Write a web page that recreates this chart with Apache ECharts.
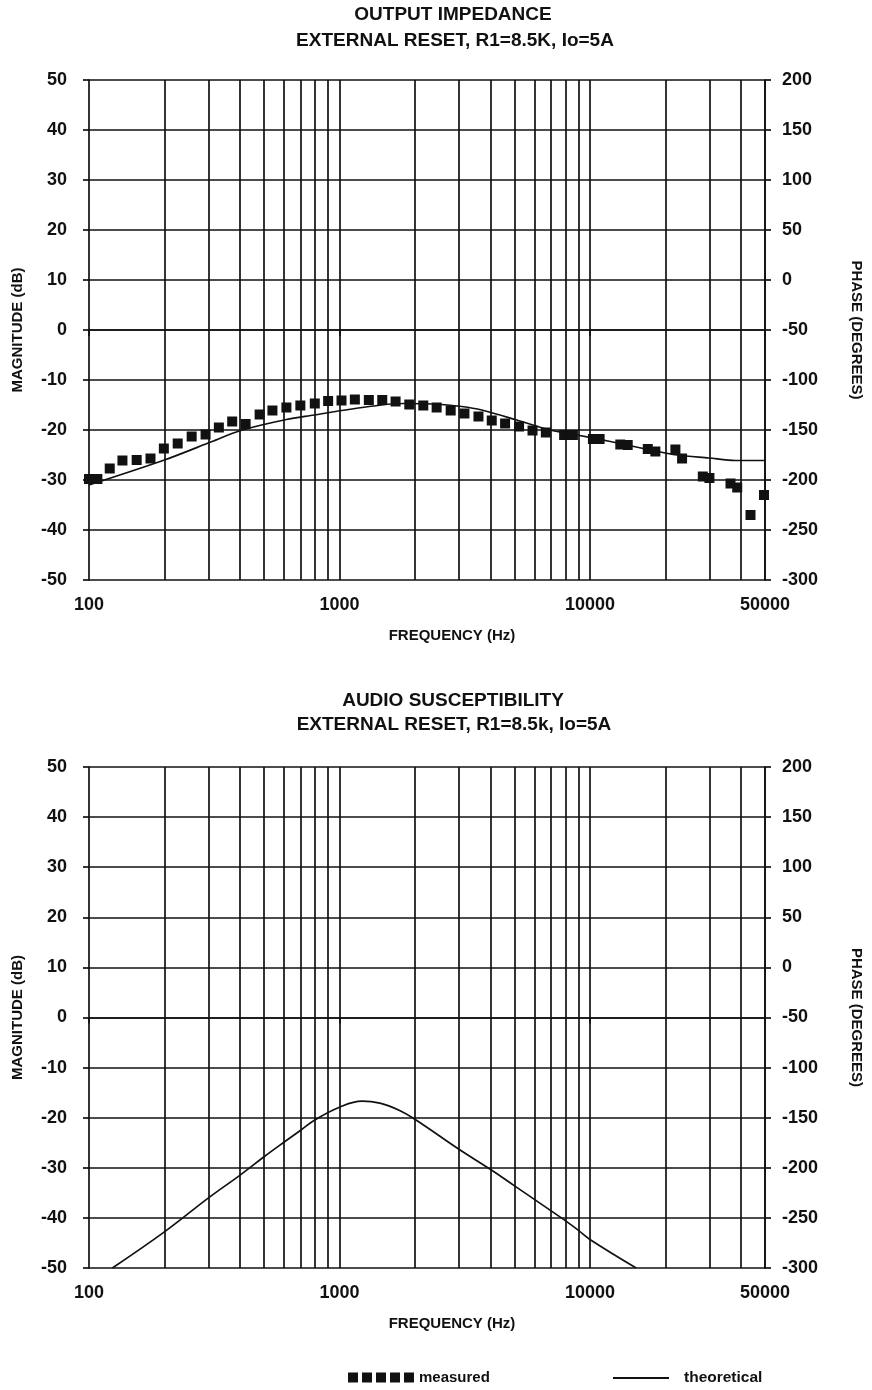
<!DOCTYPE html>
<html>
<head>
<meta charset="utf-8">
<title>Output impedance / audio susceptibility</title>
<script src="https://cdn.jsdelivr.net/npm/echarts@6.0.0/dist/echarts.min.js"></script>
<style>
  html, body { margin: 0; padding: 0; background: #fff; }
  #main { width: 872px; height: 1390px; }
</style>
</head>
<body>
<div id="main"></div>
<script>
// frequency axis (Hz, log) and grid lines of the original chart paper
var freqMin = 100;
var freqMax = 50000;
var gridFreqs = [200, 300, 400, 500, 600, 700, 800, 900, 1000,
  2000, 3000, 4000, 5000, 6000, 7000, 8000, 9000, 10000,
  20000, 30000, 40000, 50000];

// magnitude (dB, left) and phase (degrees, right) axes
var magMin = -50, magMax = 50, magStep = 10;
var phaseMin = -300, phaseMax = 200, phaseStep = 50;

// output impedance - measured points
var zMeasFreq = [100, 108, 121, 136, 155, 176, 199, 226, 257, 292, 330, 373, 422, 480, 540,
  614, 698, 797, 901, 1019, 1152, 1310, 1482, 1675, 1900, 2161, 2443, 2780, 3155, 3589,
  4055, 4584, 5213, 5899, 6668, 7889, 8551, 10280, 10930, 13220, 14150, 17020, 18250,
  21940, 23330, 28230, 30000, 36410, 38730, 43760, 49540];
var zMeasMag = [-29.8, -29.8, -27.7, -26.1, -26, -25.7, -23.7, -22.7, -21.3, -20.9, -19.5, -18.3, -18.8, -16.9, -16.1,
  -15.5, -15.1, -14.7, -14.2, -14.1, -13.9, -14, -14, -14.3, -14.9, -15.1, -15.5, -16.1, -16.7, -17.3,
  -18.1, -18.7, -19.3, -20.1, -20.5, -21, -21, -21.8, -21.8, -22.9, -23, -23.8, -24.3,
  -23.9, -25.7, -29.3, -29.6, -30.7, -31.5, -37, -33];

// output impedance - theoretical curve
var zTheoFreq = [100, 200, 310, 403, 614, 794, 988, 1472, 1800, 2400, 3076, 3698, 5105, 6939, 8872,
  12060, 17420, 22280, 29840, 38120, 50000];
var zTheoMag = [-31, -26, -22.3, -20.1, -17.9, -17, -16.2, -15, -14.7, -14.8, -15.3, -16, -18, -20, -21,
  -22.3, -24, -25, -25.6, -26.1, -26.1];

// audio susceptibility - theoretical curve
var asTheoFreq = [124, 200, 300, 400, 500, 600, 700, 800, 1000, 1230, 1450, 1730, 2000,
  3000, 4000, 5000, 6000, 7000, 8000, 9000, 10000, 15300];
var asTheoMag = [-50, -42.8, -36, -31.5, -27.8, -24.9, -22.5, -20.4, -17.9, -16.7, -17.1, -18.5, -20.3,
  -26.3, -30.3, -33.6, -36.3, -38.6, -40.6, -42.5, -44.3, -50];

var FONT = '"Liberation Sans", Arial, Helvetica, sans-serif';
var INK = '#111';
var LW = 1.7;

function pairs(xs, ys) {
  return xs.map(function (x, i) { return [x, ys[i]]; });
}

function freqAxis(gridIndex) {
  return {
    type: 'log', logBase: 10, gridIndex: gridIndex,
    min: freqMin, max: freqMax,
    name: 'FREQUENCY (Hz)', nameLocation: 'middle', nameGap: 48,
    nameTextStyle: { color: INK, fontSize: 15, fontWeight: 'bold', fontFamily: FONT, padding: [0, 0, 0, 50] },
    axisLine: { show: true, lineStyle: { color: INK, width: LW } },
    axisTick: { show: true, length: 6, lineStyle: { color: INK, width: LW } },
    axisLabel: {
      margin: 16, color: INK, fontSize: 18, fontWeight: 'bold', fontFamily: FONT,
      formatter: function (v) { return String(Math.round(v)); }
    },
    splitLine: { show: false },
    minorTick: { show: false }
  };
}

function magAxis(gridIndex) {
  return {
    type: 'value', gridIndex: gridIndex, position: 'left',
    min: magMin, max: magMax, interval: magStep,
    name: 'MAGNITUDE (dB)', nameLocation: 'middle', nameGap: 64,
    nameTextStyle: { color: INK, fontSize: 15, fontWeight: 'bold', fontFamily: FONT },
    axisLine: { show: true, lineStyle: { color: INK, width: LW } },
    axisTick: { show: true, length: 6, lineStyle: { color: INK, width: LW } },
    axisLabel: { margin: 22, color: INK, fontSize: 18, fontWeight: 'bold', fontFamily: FONT },
    splitLine: { show: true, lineStyle: { color: INK, width: LW } }
  };
}

function phaseAxis(gridIndex) {
  return {
    type: 'value', gridIndex: gridIndex, position: 'right',
    min: phaseMin, max: phaseMax, interval: phaseStep,
    name: 'PHASE (DEGREES)', nameLocation: 'middle', nameGap: 84, nameRotate: -90,
    nameTextStyle: { color: INK, fontSize: 15, fontWeight: 'bold', fontFamily: FONT },
    axisLine: { show: true, lineStyle: { color: INK, width: LW } },
    axisTick: { show: true, length: 6, lineStyle: { color: INK, width: LW } },
    axisLabel: { margin: 17, color: INK, fontSize: 18, fontWeight: 'bold', fontFamily: FONT },
    splitLine: { show: false }
  };
}

// vertical grid lines at 2,3..9 x decade, drawn through the log axis
function paperLines(xi, yi) {
  return {
    type: 'line', xAxisIndex: xi, yAxisIndex: yi, data: [], z: 1, silent: true,
    markLine: {
      silent: true, animation: false, symbol: ['none', 'none'],
      label: { show: false },
      lineStyle: { color: INK, width: LW, type: 'solid', opacity: 1 },
      data: gridFreqs.map(function (f) { return { xAxis: f }; })
    }
  };
}

function titleText(x, y, text) {
  return {
    type: 'text', x: x, y: y,
    style: { text: text, fill: INK, font: 'bold 19px ' + FONT, align: 'center', verticalAlign: 'middle' }
  };
}

var SQUARES = 'path://M0 0h10v10H0z M14 0h10v10H14z M28 0h10v10H28z M42 0h10v10H42z M56 0h10v10H56z';

var chart = echarts.init(document.getElementById('main'), null, { renderer: 'canvas' });

chart.setOption({
  animation: false,
  backgroundColor: '#fff',
  graphic: [
    titleText(453, 15, 'OUTPUT IMPEDANCE'),
    titleText(455, 41, 'EXTERNAL RESET, R1=8.5K, Io=5A'),
    titleText(453, 701, 'AUDIO SUSCEPTIBILITY'),
    titleText(454, 725, 'EXTERNAL RESET, R1=8.5k, Io=5A')
  ],
  grid: [
    { left: 89, top: 80, width: 676, height: 500, outerBoundsMode: 'none' },
    { left: 89, top: 767, width: 676, height: 501, outerBoundsMode: 'none' }
  ],
  xAxis: [freqAxis(0), freqAxis(1)],
  yAxis: [magAxis(0), phaseAxis(0), magAxis(1), phaseAxis(1)],
  legend: [
    {
      left: 348, top: 1370, padding: 0, selectedMode: false,
      itemWidth: 66, itemHeight: 10,
      data: [{ name: 'measured', icon: SQUARES, itemStyle: { opacity: 1 } }],
      textStyle: { color: INK, fontSize: 15, fontWeight: 'bold', fontFamily: FONT }
    },
    {
      left: 613, top: 1370, padding: 0, selectedMode: false,
      itemWidth: 56, itemHeight: 2,
      data: [{ name: 'theoretical', icon: 'rect' }],
      textStyle: { color: INK, fontSize: 15.5, fontWeight: 'bold', fontFamily: FONT, padding: [0, 0, 0, 10] }
    }
  ],
  series: [
    paperLines(0, 0),
    paperLines(1, 2),
    {
      name: 'theoretical', type: 'line', xAxisIndex: 0, yAxisIndex: 0, z: 3,
      data: pairs(zTheoFreq, zTheoMag), smooth: 0.3, showSymbol: false,
      itemStyle: { color: INK }, lineStyle: { color: INK, width: 1.7 }
    },
    {
      name: 'measured', type: 'scatter', xAxisIndex: 0, yAxisIndex: 0, z: 4,
      data: pairs(zMeasFreq, zMeasMag), symbol: 'rect', symbolSize: 10,
      itemStyle: { color: INK, opacity: 1 }
    },
    {
      name: 'theoretical', type: 'line', xAxisIndex: 1, yAxisIndex: 2, z: 3,
      data: pairs(asTheoFreq, asTheoMag), smooth: 0.4, showSymbol: false,
      itemStyle: { color: INK }, lineStyle: { color: INK, width: 1.7 }
    }
  ]
});
</script>
</body>
</html>
